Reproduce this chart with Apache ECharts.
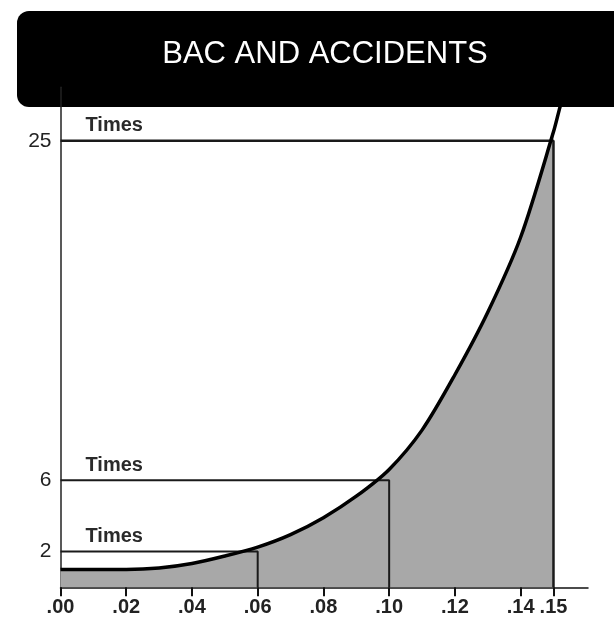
<!DOCTYPE html>
<html>
<head>
<meta charset="utf-8">
<style>
  html, body { margin: 0; padding: 0; background: #fff; }
  #main { width: 614px; height: 625px; }
</style>
<script src="https://cdn.jsdelivr.net/npm/echarts@6/dist/echarts.min.js"></script>
</head>
<body>
<div id="main"></div>
<script>
// BAC (blood alcohol concentration) vs. relative accident risk
var titleText = 'BAC AND ACCIDENTS';
var bac  = [0, 0.01, 0.02, 0.03, 0.04, 0.05, 0.06, 0.07, 0.08, 0.09, 0.10, 0.11, 0.12, 0.13, 0.14, 0.15, 0.152, 0.155];
var risk = [1.0, 1.0, 1.0, 1.08, 1.33, 1.75, 2.25, 2.95, 3.9, 5.1, 6.6, 8.8, 11.9, 15.4, 19.6, 25.5, 26.9, 28.8];

// reference markers: BAC level and how many times the risk
var markBac   = [0.15, 0.10, 0.06];
var markTimes = [25, 6, 2];
var markLabel = 'Times';

var xTicks = [0, 0.02, 0.04, 0.06, 0.08, 0.10, 0.12, 0.14, 0.15];
var yTicks = [2, 6, 25];

var curve = bac.map(function (b, i) { return [b, risk[i]]; });
var shaded = curve.filter(function (p) { return p[0] <= 0.15; });

var chart = echarts.init(document.getElementById('main'));

var series = [{
  name: 'area',
  type: 'line',
  data: shaded,
  smooth: 0.3,
  symbol: 'none',
  lineStyle: { width: 0 },
  areaStyle: { color: '#a8a8a8', opacity: 1 },
  z: 1
}];

markBac.forEach(function (b, i) {
  var t = markTimes[i];
  series.push({
    name: 'mark' + t,
    type: 'line',
    symbol: 'circle',
    symbolSize: 0,
    showSymbol: true,
    lineStyle: { color: '#1a1a1a', width: t === 25 ? 2.5 : 2 },
    z: 3,
    data: [
      {
        value: [0, t],
        label: {
          show: true,
          formatter: markLabel,
          position: [25, -5],
          align: 'left',
          verticalAlign: 'bottom',
          fontFamily: 'Liberation Sans',
          fontWeight: 'bold',
          fontSize: 20,
          color: '#2a2a2a'
        }
      },
      [b, t],
      [b, 0]
    ]
  });
});

series.push({
  name: 'curve',
  type: 'line',
  data: curve,
  smooth: 0.3,
  symbol: 'none',
  lineStyle: { color: '#000', width: 3.5 },
  z: 4
});

chart.setOption({
  backgroundColor: '#fff',
  animation: false,
  grid: { left: 60.5, right: 26, top: 87.2, bottom: 37.7 },
  xAxis: {
    type: 'value',
    min: 0,
    max: 0.1605,
    axisLine: { show: true, lineStyle: { color: '#111', width: 1.5 } },
    axisTick: { show: true, customValues: xTicks, length: 9, lineStyle: { color: '#111', width: 2 } },
    axisLabel: {
      customValues: xTicks,
      margin: 10,
      fontFamily: 'Liberation Sans',
      fontWeight: 'bold',
      fontSize: 20,
      color: '#222',
      formatter: function (v) { return v.toFixed(2).replace(/^0/, ''); }
    },
    splitLine: { show: false }
  },
  yAxis: {
    type: 'value',
    min: 0,
    max: 28,
    axisLine: { show: true, lineStyle: { color: '#222', width: 1.5 } },
    axisTick: { show: false },
    axisLabel: {
      customValues: yTicks,
      margin: 9,
      fontFamily: 'Liberation Sans',
      fontSize: 21,
      color: '#222'
    },
    splitLine: { show: false }
  },
  graphic: [{
    type: 'group',
    z: 100,
    children: [{
      type: 'rect',
      shape: { x: 17, y: 11, width: 640, height: 96, r: 12 },
      style: { fill: '#000' }
    }, {
      type: 'text',
      x: 325,
      y: 54,
      style: {
        text: titleText,
        fill: '#fff',
        fontFamily: 'Liberation Sans',
        fontSize: 31,
        align: 'center',
        verticalAlign: 'middle'
      }
    }]
  }],
  series: series
});
</script>
</body>
</html>
